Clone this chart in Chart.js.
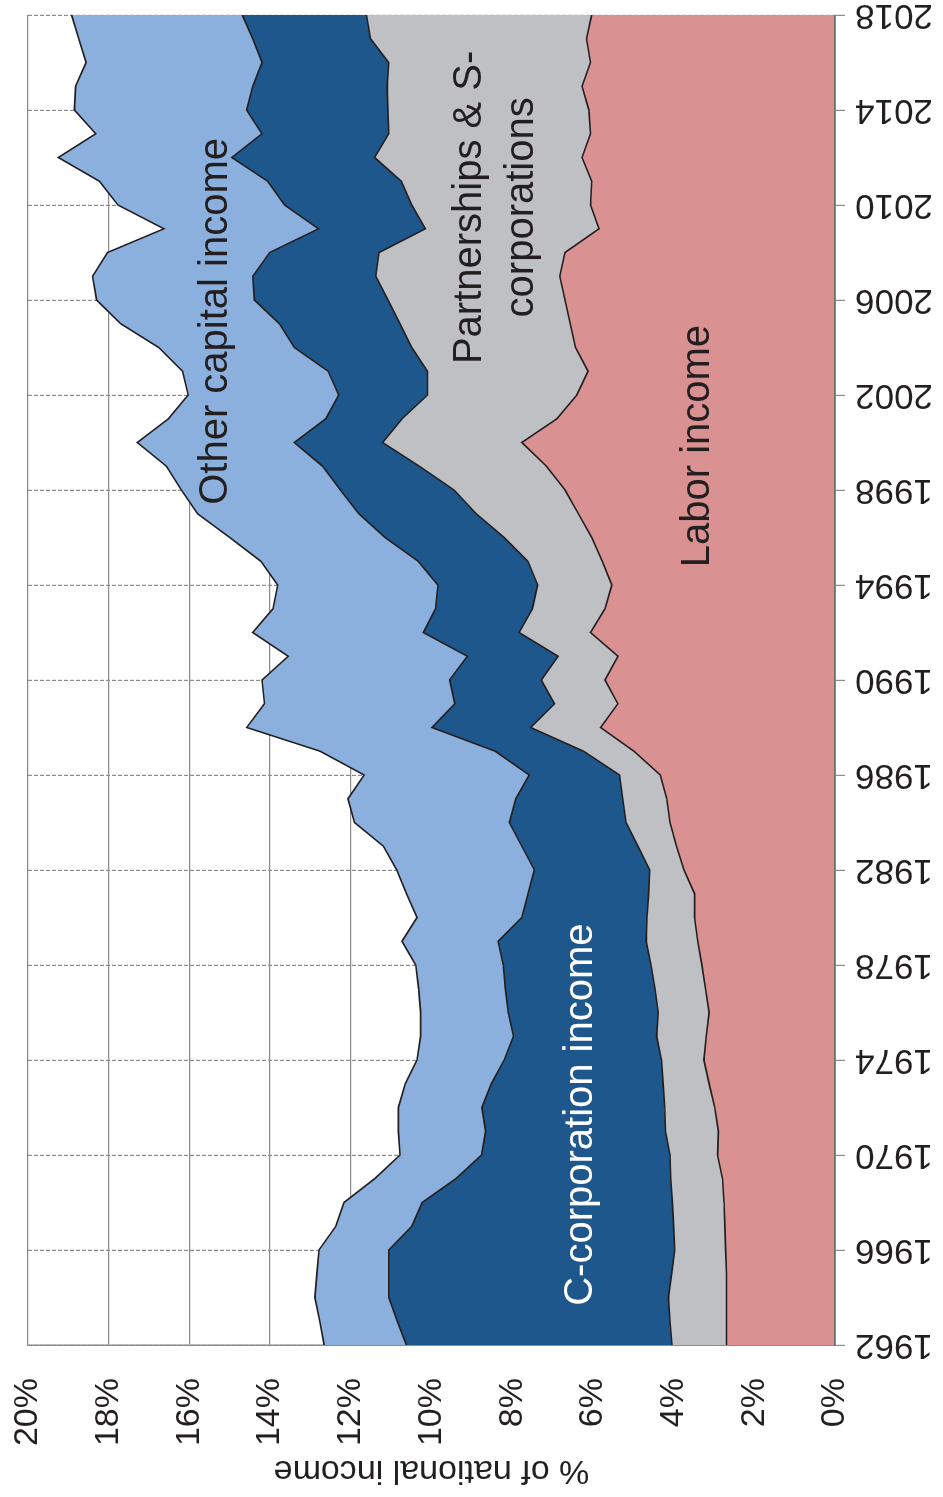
<!DOCTYPE html>
<html lang="en">
<head>
<meta charset="UTF-8">
<title>Top income shares by type</title>
<script src="https://cdn.jsdelivr.net/npm/chart.js"></script>
<style>
  html, body { margin: 0; padding: 0; background: #fff; overflow: hidden; }
  #wrap {
    position: absolute; left: 0; top: 0;
    width: 1497px; height: 943px;
    transform-origin: 0 0;
    transform: translate(0, 1497px) rotate(-90deg);
  }
</style>
</head>
<body>
<div id="wrap"><canvas id="myChart" width="1497" height="943"></canvas></div>
<script>
const years = [
  1962, 1963, 1964, 1965, 1966, 1967, 1968, 1969, 1970, 1971,
  1972, 1973, 1974, 1975, 1976, 1977, 1978, 1979, 1980, 1981,
  1982, 1983, 1984, 1985, 1986, 1987, 1988, 1989, 1990, 1991,
  1992, 1993, 1994, 1995, 1996, 1997, 1998, 1999, 2000, 2001,
  2002, 2003, 2004, 2005, 2006, 2007, 2008, 2009, 2010, 2011,
  2012, 2013, 2014, 2015, 2016, 2017, 2018
];
const yearTicks = [1962, 1966, 1970, 1974, 1978, 1982, 1986, 1990, 1994, 1998, 2002, 2006, 2010, 2014, 2018];
const pctTicks = [0, 2, 4, 6, 8, 10, 12, 14, 16, 18, 20];

// % of national income, per income type (stacked in this order)
const labor = [
  2.69, 2.69, 2.69, 2.69, 2.71, 2.73, 2.75, 2.79, 2.91, 2.89,
  2.98, 3.12, 3.25, 3.19, 3.12, 3.21, 3.30, 3.40, 3.48, 3.48,
  3.74, 3.93, 4.09, 4.17, 4.33, 4.98, 5.81, 5.38, 5.70, 5.38,
  6.06, 5.70, 5.53, 5.77, 6.03, 6.36, 6.69, 7.15, 7.76, 6.89,
  6.40, 6.12, 6.43, 6.56, 6.69, 6.82, 6.69, 5.85, 6.06, 6.03,
  6.27, 6.06, 6.10, 6.27, 6.06, 6.16, 6.03
];
const partnerships = [
  1.35, 1.40, 1.44, 1.36, 1.26, 1.27, 1.28, 1.28, 1.18, 1.31,
  1.24, 1.14, 1.05, 1.23, 1.26, 1.25, 1.26, 1.28, 1.18, 1.14,
  0.85, 0.95, 1.09, 1.09, 1.01, 1.25, 1.73, 1.57, 1.58, 1.48,
  1.77, 1.80, 1.84, 1.84, 2.17, 2.53, 2.75, 3.15, 3.45, 3.84,
  3.70, 3.98, 4.06, 4.22, 4.39, 4.56, 4.61, 4.30, 4.43, 4.72,
  5.14, 5.00, 4.98, 4.83, 5.00, 5.35, 5.58
];
const ccorp = [
  6.58, 6.76, 6.93, 7.01, 7.09, 6.49, 6.20, 5.33, 4.67, 4.46,
  4.53, 4.26, 3.90, 3.55, 3.72, 3.71, 3.66, 3.67, 3.10, 2.99,
  2.86, 2.88, 2.89, 2.65, 2.24, 2.19, 2.45, 2.47, 2.27, 2.25,
  2.37, 2.40, 2.47, 2.72, 2.95, 2.91, 2.82, 2.40, 2.19, 1.89,
  2.20, 2.46, 2.91, 2.99, 3.31, 3.05, 2.71, 2.65, 3.15, 3.31,
  3.54, 3.14, 3.50, 3.33, 3.14, 2.92, 3.08
];
const otherCapital = [
  2.04, 1.92, 1.83, 1.78, 1.73, 1.88, 1.94, 2.01, 2.02, 2.16,
  2.07, 2.13, 2.16, 2.30, 2.17, 2.15, 2.17, 2.38, 2.60, 3.01,
  3.41, 3.43, 3.84, 4.16, 4.09, 4.34, 4.59, 4.72, 4.65, 4.44,
  4.23, 4.03, 3.97, 3.90, 3.85, 4.00, 3.94, 3.87, 3.89, 3.90,
  3.73, 3.61, 3.36, 3.93, 3.91, 3.97, 4.02, 3.83, 4.13, 4.17,
  4.30, 4.12, 4.27, 4.39, 4.36, 4.31, 4.23
];

const FONT = "'Liberation Sans', Arial, sans-serif";
const INK = "#231F20";

const series = [
  { label: "Labor income", data: labor, color: "#D99192" },
  { label: "Partnerships & S-corporations", data: partnerships, color: "#BFC0C4" },
  { label: "C-corporation income", data: ccorp, color: "#1E578B" },
  { label: "Other capital income", data: otherCapital, color: "#8BB0DD" }
];

// text written inside the areas, placed in data units
const areaNotes = [
  { lines: ["Other capital income"], year: 2005.1, pct: 15.35, color: INK },
  { lines: ["Partnerships & S-", "corporations"], year: 2009.9, pct: 8.4, color: INK },
  { lines: ["Labor income"], year: 1999.85, pct: 3.4, color: INK },
  { lines: ["C-corporation income"], year: 1971.7, pct: 6.3, color: "#ffffff" }
];

const notesPlugin = {
  id: "notes",
  afterDatasetsDraw(chart) {
    const { ctx, scales: { x, y } } = chart;
    ctx.save();
    ctx.font = "40px " + FONT;
    ctx.textAlign = "center";
    ctx.textBaseline = "middle";
    areaNotes.forEach(n => {
      const cx = x.getPixelForValue(n.year);
      const cy = y.getPixelForValue(n.pct);
      const lh = 52;
      ctx.fillStyle = n.color;
      n.lines.forEach((t, i) => {
        ctx.fillText(t, cx, cy + (i - (n.lines.length - 1) / 2) * lh);
      });
    });
    ctx.restore();
  }
};

new Chart(document.getElementById("myChart"), {
  type: "line",
  data: {
    datasets: series.map((s, i) => ({
      label: s.label,
      data: s.data.map((v, k) => ({ x: years[k], y: v })),
      backgroundColor: s.color,
      borderColor: INK,
      borderWidth: 1.6,
      pointRadius: 0,
      tension: 0,
      fill: i === 0 ? "origin" : "-1"
    }))
  },
  options: {
    responsive: false,
    animation: false,
    devicePixelRatio: 1,
    layout: { padding: { top: 28, right: 15, bottom: 0, left: 0 } },
    plugins: {
      legend: { display: false },
      tooltip: { enabled: false }
    },
    scales: {
      x: {
        type: "linear",
        min: 1962,
        max: 2018,
        afterBuildTicks: s => { s.ticks = yearTicks.map(v => ({ value: v })); },
        afterFit: s => { s.height = 108; s.paddingLeft = 0; s.paddingRight = 0; },
        ticks: {
          autoSkip: false,
          minRotation: 90,
          maxRotation: 90,
          padding: 10,
          color: INK,
          font: { family: FONT, size: 35 },
          callback: v => String(v)
        },
        grid: {
          color: "#8c8c8c",
          lineWidth: 1.2,
          tickLength: 10,
          tickColor: "#8c8c8c",
          tickBorderDash: []
        },
        // in v4 the grid line dash comes from border.dash
        border: { display: true, color: "#6d6d6d", width: 1.8, z: 1, dash: [4, 2] }
      },
      y: {
        stacked: true,
        min: 0,
        max: 20,
        afterBuildTicks: s => { s.ticks = pctTicks.map(v => ({ value: v })); },
        afterFit: s => { s.width = 152; s.paddingTop = 0; s.paddingBottom = 0; },
        ticks: {
          padding: 33,
          color: INK,
          font: { family: FONT, size: 34 },
          callback: v => v + "%"
        },
        grid: { color: "#8c8c8c", lineWidth: 1.3, drawTicks: false },
        border: { display: true, color: "#8c8c8c", width: 1.5 },
        title: {
          display: true,
          text: "% of national income",
          color: INK,
          font: { family: FONT, size: 34, lineHeight: 1 },
          padding: { top: 10, bottom: 0 }
        }
      }
    }
  },
  plugins: [notesPlugin]
});
</script>
</body>
</html>
